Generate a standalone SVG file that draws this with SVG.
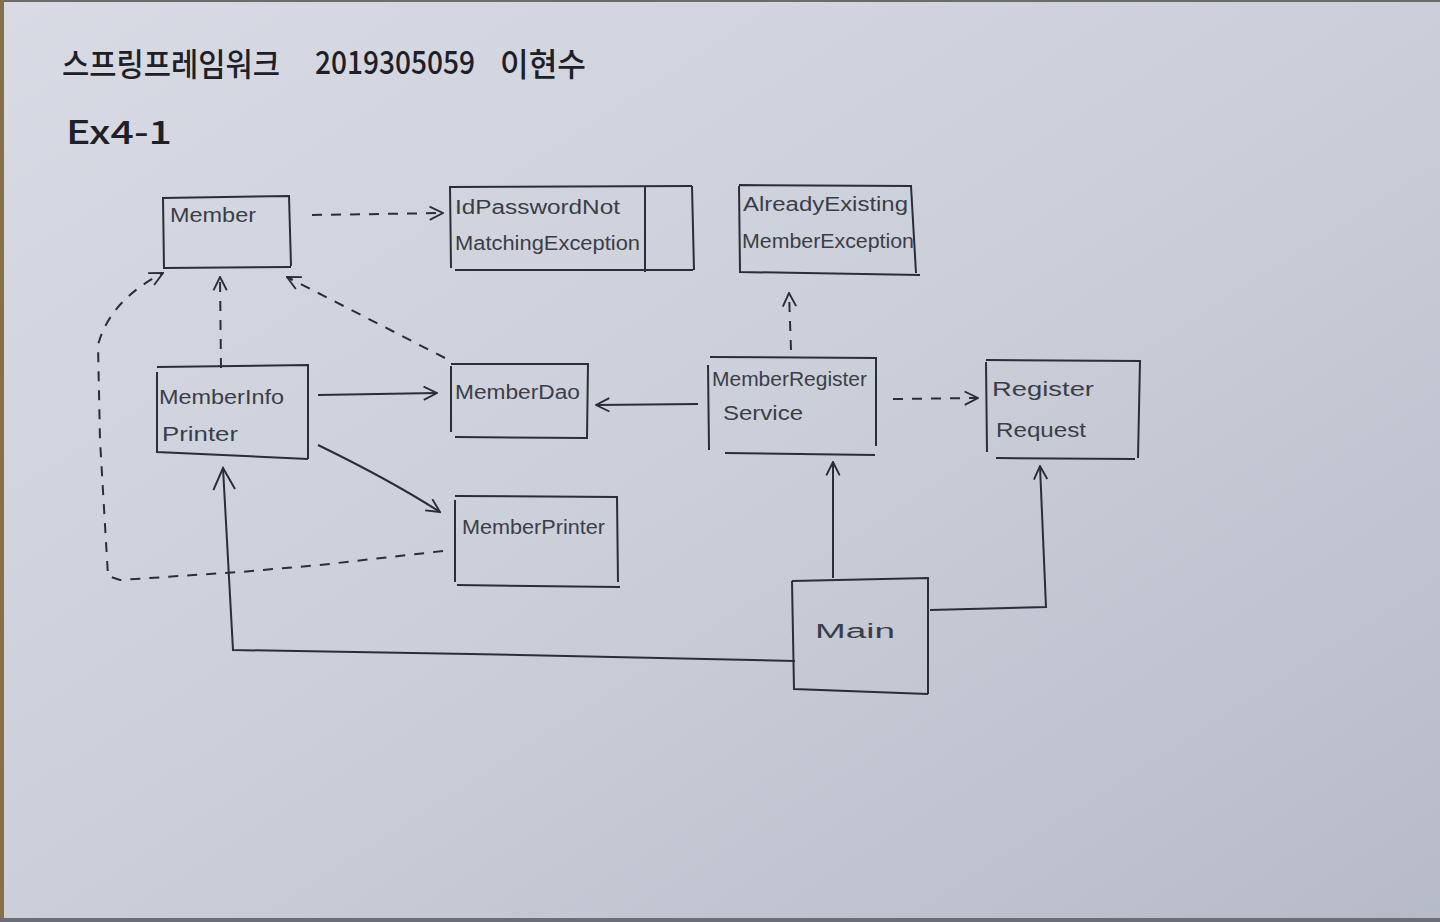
<svg xmlns="http://www.w3.org/2000/svg" width="1440" height="922" viewBox="0 0 1440 922">
<defs>
<linearGradient id="paper" x1="0" y1="0" x2="1" y2="1">
<stop offset="0" stop-color="#d8dbe4"/>
<stop offset="0.5" stop-color="#cbcfd9"/>
<stop offset="1" stop-color="#b6bbc8"/>
</linearGradient>
<marker id="open" viewBox="0 0 12 12" refX="11" refY="6" markerWidth="16" markerHeight="16" markerUnits="userSpaceOnUse" orient="auto">
<path d="M1,1 L11,6 L1,11" fill="none" stroke="#2a2d35" stroke-width="1.4"/>
</marker>
<marker id="big" viewBox="0 0 12 12" refX="11" refY="6" markerWidth="26" markerHeight="26" markerUnits="userSpaceOnUse" orient="auto">
<path d="M1,1 L11,6 L1,11" fill="none" stroke="#2a2d35" stroke-width="0.9"/>
</marker>
<style>
.box{fill:none;stroke:#2b2e36;stroke-width:2;}
.ln{fill:none;stroke:#2b2e36;stroke-width:2;}
.dash{fill:none;stroke:#2b2e36;stroke-width:2;stroke-dasharray:10 9;}
.lbl{font-family:"Liberation Sans","Noto Sans",sans-serif;font-size:20px;fill:#3b3e48;}
.title{font-family:"Noto Sans CJK KR","Noto Sans",sans-serif;font-size:32px;font-weight:500;fill:#1e2026;}
</style>
</defs>
<rect x="0" y="0" width="1440" height="922" fill="url(#paper)"/>
<rect x="0" y="0" width="1440" height="2" fill="#6e6a66"/>
<rect x="0" y="0" width="4" height="922" fill="#8a6e48"/>
<rect x="0" y="918" width="1440" height="4" fill="#6a6e78"/>

<g id="title">
<text class="title" x="62" y="76" textLength="218" lengthAdjust="spacingAndGlyphs">스프링프레임워크</text>
<text class="title" x="315" y="74" textLength="160" lengthAdjust="spacingAndGlyphs">2019305059</text>
<text class="title" x="500" y="76" textLength="86" lengthAdjust="spacingAndGlyphs">이현수</text>
<text class="title" x="66" y="144" font-size="40" textLength="106" lengthAdjust="spacingAndGlyphs">Ex4-1</text>
</g>

<g id="connectors">
<path class="dash" d="M312,215 L443,213" marker-end="url(#open)"/>
<path class="dash" d="M221,368 L220,277" marker-end="url(#open)"/>
<path class="dash" d="M445,358 L287,277" marker-end="url(#open)"/>
<path class="dash" d="M443,551 L320,565 L240,572 L120,580 L108,576 L100,440 L98,345 Q110,300 163,273" marker-end="url(#open)"/>
<path class="ln" d="M318,395 L437,393" marker-end="url(#open)"/>
<path class="ln" d="M318,445 Q390,480 440,512" marker-end="url(#open)"/>
<path class="ln" d="M698,404 L596,405" marker-end="url(#open)"/>
<path class="dash" d="M791,350 L789,293" marker-end="url(#open)"/>
<path class="dash" d="M893,399 L978,398" marker-end="url(#open)"/>
<path class="ln" d="M833,578 L833,462" marker-end="url(#open)"/>
<path class="ln" d="M930,610 L1046,607 L1040,466" marker-end="url(#open)"/>
<path class="ln" d="M795,661 L470,654 L233,650 L223,468" marker-end="url(#big)"/>
</g>

<g id="member">
<path class="box" d="M162,198 L289,196 L291,266 M163,198 L164,268 L291,267"/>
<text class="lbl" x="170" y="222" textLength="86" lengthAdjust="spacingAndGlyphs">Member</text>
</g>

<g id="idpassword">
<path class="box" d="M450,187 L692,186 M450,186 L451,268 M645,186 L645,272 M455,270 L693,270"/>
<path class="box" stroke-width="1" d="M692,186 L694,270"/>
<text class="lbl" x="455" y="214" textLength="165" lengthAdjust="spacingAndGlyphs">IdPasswordNot</text>
<text class="lbl" x="455" y="250" textLength="185" lengthAdjust="spacingAndGlyphs">MatchingException</text>
</g>

<g id="alreadyexisting">
<path class="box" d="M739,185 L911,186 L916,273 M739,186 L740,272 L920,275"/>
<text class="lbl" x="743" y="211" textLength="165" lengthAdjust="spacingAndGlyphs">AlreadyExisting</text>
<text class="lbl" x="742" y="248" textLength="172" lengthAdjust="spacingAndGlyphs">MemberException</text>
</g>

<g id="memberinfoprinter">
<path class="box" d="M157,367 L308,365 L308,459 M157,372 L157,452 L308,459"/>
<text class="lbl" x="159" y="404" textLength="125" lengthAdjust="spacingAndGlyphs">MemberInfo</text>
<text class="lbl" x="162" y="441" textLength="76" lengthAdjust="spacingAndGlyphs">Printer</text>
</g>

<g id="memberdao">
<path class="box" d="M451,364 L588,364 L587,438 L455,437 M451,366 L451,432"/>
<text class="lbl" x="455" y="399" textLength="125" lengthAdjust="spacingAndGlyphs">MemberDao</text>
</g>

<g id="memberregisterservice">
<path class="box" d="M710,357 L876,358 L876,446 M708,365 L709,450 M725,453 L875,455"/>
<text class="lbl" x="712" y="386" textLength="155" lengthAdjust="spacingAndGlyphs">MemberRegister</text>
<text class="lbl" x="723" y="420" textLength="80" lengthAdjust="spacingAndGlyphs">Service</text>
</g>

<g id="registerrequest">
<path class="box" d="M986,360 L1140,361 L1138,458 M986,362 L987,452 M996,458 L1135,459"/>
<text class="lbl" x="992" y="396" textLength="102" lengthAdjust="spacingAndGlyphs">Register</text>
<text class="lbl" x="996" y="437" textLength="90" lengthAdjust="spacingAndGlyphs">Request</text>
</g>

<g id="memberprinter">
<path class="box" d="M455,496 L617,497 L618,582 M455,500 L455,582 M457,585 L620,587"/>
<text class="lbl" x="462" y="534" textLength="143" lengthAdjust="spacingAndGlyphs">MemberPrinter</text>
</g>

<g id="main">
<path class="box" d="M792,581 L928,578 L928,694 M792,581 L794,689 L928,694"/>
<text class="lbl" x="815" y="638" font-size="24" textLength="80" lengthAdjust="spacingAndGlyphs">Main</text>
</g>
</svg>
